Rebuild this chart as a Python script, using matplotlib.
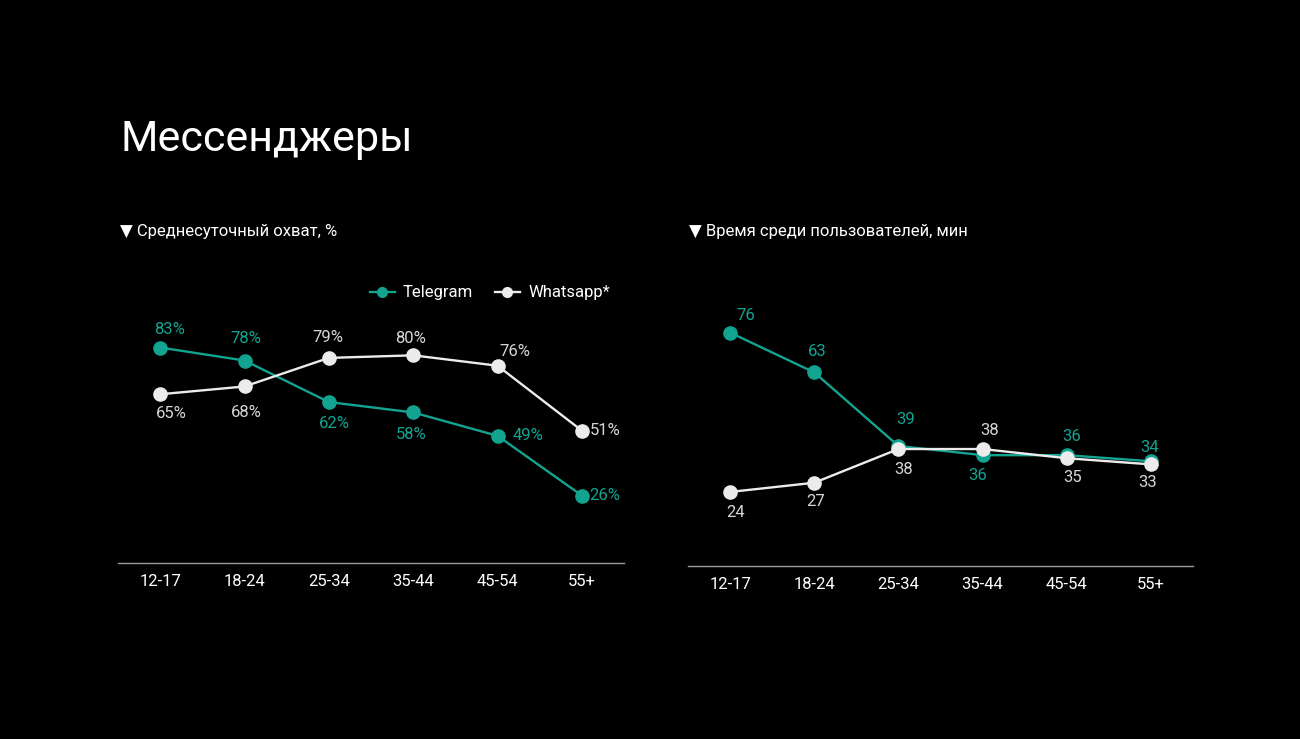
import matplotlib
matplotlib.use("Agg")
import matplotlib.pyplot as plt
from matplotlib.lines import Line2D
import numpy as np

plt.rcParams['font.family'] = ['Roboto', 'DejaVu Sans']

ages = ['12-17', '18-24', '25-34', '35-44', '45-54', '55+']

reach_telegram = [83, 78, 62, 58, 49, 26]
reach_whatsapp = [65, 68, 79, 80, 76, 51]

time_telegram = [76, 63, 39, 36, 36, 34]
time_whatsapp = [24, 27, 38, 38, 35, 33]

# label offsets in pixels (dx, dy up) for each point
reach_tg_off = [(9, 18), (1, 22), (6, -21), (-2, -22), (31, 0), (23, 0)]
reach_wa_off = [(11, -19), (2, -26), (-1, 20), (-3, 17), (17, 14), (23, 0)]
time_tg_off = [(16, 17), (3, 21), (7, 26), (-5, -20), (5, 19), (-1, 14)]
time_wa_off = [(5, -21), (1, -19), (5, -20), (7, 19), (6, -19), (-3, -18)]

TEAL = '#13a391'
WHITE = '#ececec'
LABEL_GRAY = '#d6d6d6'
BG = '#000000'

fig = plt.figure(figsize=(13, 7.39), dpi=100)
fig.patch.set_facecolor(BG)


def draw(ax, tg, wa, tg_off, wa_off, ymax, fmt):
    x = np.arange(len(ages))
    ax.set_facecolor(BG)
    ax.plot(x, tg, color=TEAL, lw=1.7, marker='o', ms=9.5, mfc=TEAL, mec=TEAL, zorder=3)
    ax.plot(x, wa, color=WHITE, lw=1.7, marker='o', ms=9.5, mfc=WHITE, mec=WHITE, zorder=4)
    for xi, v, (dx, dy) in zip(x, tg, tg_off):
        ax.annotate(fmt.format(v), (xi, v), xytext=(dx * 0.72, dy * 0.72),
                    textcoords='offset points', ha='center', va='center',
                    color=TEAL, fontsize=12)
    for xi, v, (dx, dy) in zip(x, wa, wa_off):
        ax.annotate(fmt.format(v), (xi, v), xytext=(dx * 0.72, dy * 0.72),
                    textcoords='offset points', ha='center', va='center',
                    color=LABEL_GRAY, fontsize=12)
    ax.set_xlim(-0.5, len(ages) - 0.5)
    ax.set_ylim(0, ymax)
    ax.set_xticks(x)
    ax.set_xticklabels(ages, color='white', fontsize=12)
    ax.set_yticks([])
    for s in ['top', 'right', 'left']:
        ax.spines[s].set_visible(False)
    ax.spines['bottom'].set_color('#9a9a9a')
    ax.spines['bottom'].set_linewidth(1.0)
    ax.tick_params(axis='x', length=0, pad=8)


ax1 = fig.add_axes([118 / 1300, 1 - 563 / 739, 506 / 1300, 259.6 / 739])
draw(ax1, reach_telegram, reach_whatsapp, reach_tg_off, reach_wa_off, 100, '{}%')

ax2 = fig.add_axes([688 / 1300, 1 - 565.5 / 739, 505 / 1300, 245.2 / 739])
draw(ax2, time_telegram, time_whatsapp, time_tg_off, time_wa_off, 80, '{}')

fig.text(120 / 1300, 1 - 140 / 739, 'Мессенджеры', color='white', fontsize=31,
         va='center', ha='left')
fig.text(120 / 1300, 1 - 232 / 739, '▼ Среднесуточный охват, %', color='white',
         fontsize=12, va='center', ha='left')
fig.text(689 / 1300, 1 - 232 / 739, '▼ Время среди пользователей, мин', color='white',
         fontsize=12, va='center', ha='left')

handles = [
    Line2D([], [], color=TEAL, lw=1.7, marker='o', ms=7, mfc=TEAL, mec=TEAL),
    Line2D([], [], color=WHITE, lw=1.7, marker='o', ms=7, mfc=WHITE, mec=WHITE),
]
leg = fig.legend(handles, ['Telegram', 'Whatsapp*'], loc='center right',
                 bbox_to_anchor=(610 / 1300, 1 - 293 / 739), ncol=2, frameon=False,
                 fontsize=12, handlelength=1.5, handletextpad=0.5, columnspacing=1.3,
                 borderaxespad=0, borderpad=0)
for t in leg.get_texts():
    t.set_color('white')

fig.savefig('out.png', dpi=100, facecolor=BG)
